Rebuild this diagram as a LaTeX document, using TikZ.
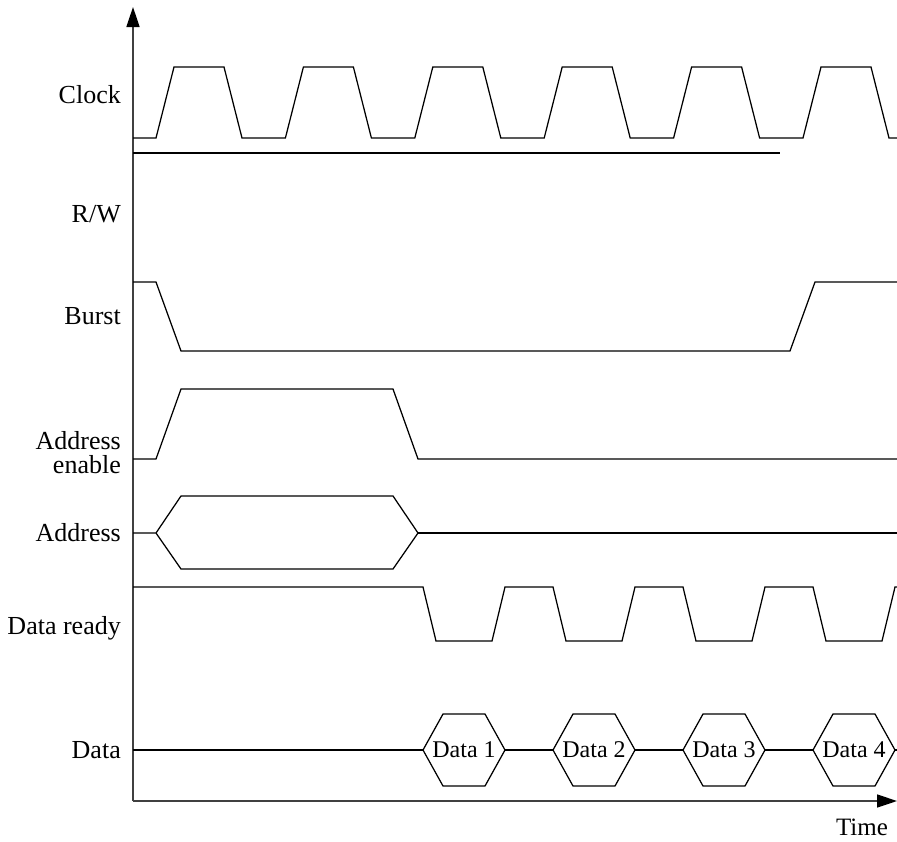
\documentclass[tikz,border=0pt]{standalone}
\usepackage{fontspec}
\setmainfont{Liberation Serif}
\usetikzlibrary{arrows.meta}
\begin{document}
\begin{tikzpicture}[x=1pt,y=-1pt,
  sig/.style={line width=1.25pt,line join=miter},
  axis/.style={line width=1.6pt,draw=black!75,-{Triangle[length=20pt,width=13pt,color=black]}},
  lbl/.style={anchor=east,font=\fontsize{26}{24}\selectfont,align=right,inner sep=0pt},
  dlbl/.style={font=\fontsize{24}{24}\selectfont,inner sep=0pt}]
\useasboundingbox (0,0) rectangle (897,841);
% axes
\coordinate (O) at (133,801);
\coordinate (Ytop) at (133,7);
\coordinate (Xend) at (897,801);
\draw[axis] (O) -- (Ytop);
\draw[axis] (O) -- (Xend);
% labels
\node[lbl] (lclock) at (121,95) {Clock};
\node[lbl] (lrw) at (121,214) {R/W};
\node[lbl] (lburst) at (121,316) {Burst};
\node[lbl] (laen) at (121,453) {Address\\enable};
\node[lbl] (laddr) at (121,533) {Address};
\node[lbl] (lready) at (121,628) {Data ready};
\node[lbl] (ldata) at (121,750) {Data};
\node[dlbl,font=\fontsize{25}{24}\selectfont] (ltime) at (862,827) {Time};
% clock
\draw[sig] (133,138) -- (156,138) -- (174,67) -- (224,67) -- (242,138)
  -- (285.4,138) -- (303.4,67) -- (353.4,67) -- (371.4,138)
  -- (414.8,138) -- (432.8,67) -- (482.8,67) -- (500.8,138)
  -- (544.2,138) -- (562.2,67) -- (612.2,67) -- (630.2,138)
  -- (673.6,138) -- (691.6,67) -- (741.6,67) -- (759.6,138)
  -- (803,138) -- (821,67) -- (871,67) -- (889,138) -- (897,138);
% R/W
\draw[sig] (133,153) -- (780,153);
% Burst
\draw[sig] (133,282) -- (156,282) -- (181,351) -- (790,351) -- (815,282) -- (897,282);
% Address enable
\draw[sig] (133,459) -- (156,459) -- (181,389) -- (393,389) -- (418,459) -- (897,459);
% Address
\draw[sig] (133,533) -- (156,533) -- (181,496) -- (393,496) -- (418,533) -- (393,569) -- (181,569) -- (156,533);
\draw[sig] (418,533) -- (897,533);
% Data ready
\draw[sig] (133,587) -- (423,587) -- (436,641) -- (492,641) -- (505,587)
  -- (553,587) -- (566,641) -- (622,641) -- (635,587)
  -- (683,587) -- (696,641) -- (752,641) -- (765,587)
  -- (813,587) -- (826,641) -- (882,641) -- (895,587) -- (897,587);
% Data
\draw[sig] (133,750) -- (423,750);
\foreach \k/\t in {0/1,1/2,2/3,3/4}{
  \pgfmathsetmacro{\L}{423+130*\k}
  \draw[sig] (\L,750) -- (\L+20,714) -- (\L+62,714) -- (\L+82,750) -- (\L+62,786) -- (\L+20,786) -- cycle;
  \node[dlbl] (d\t) at (\L+41,750) {Data \t};
}
\draw[sig] (505,750) -- (553,750);
\draw[sig] (635,750) -- (683,750);
\draw[sig] (765,750) -- (813,750);
\draw[sig] (895,750) -- (897,750);
\end{tikzpicture}
\end{document}
